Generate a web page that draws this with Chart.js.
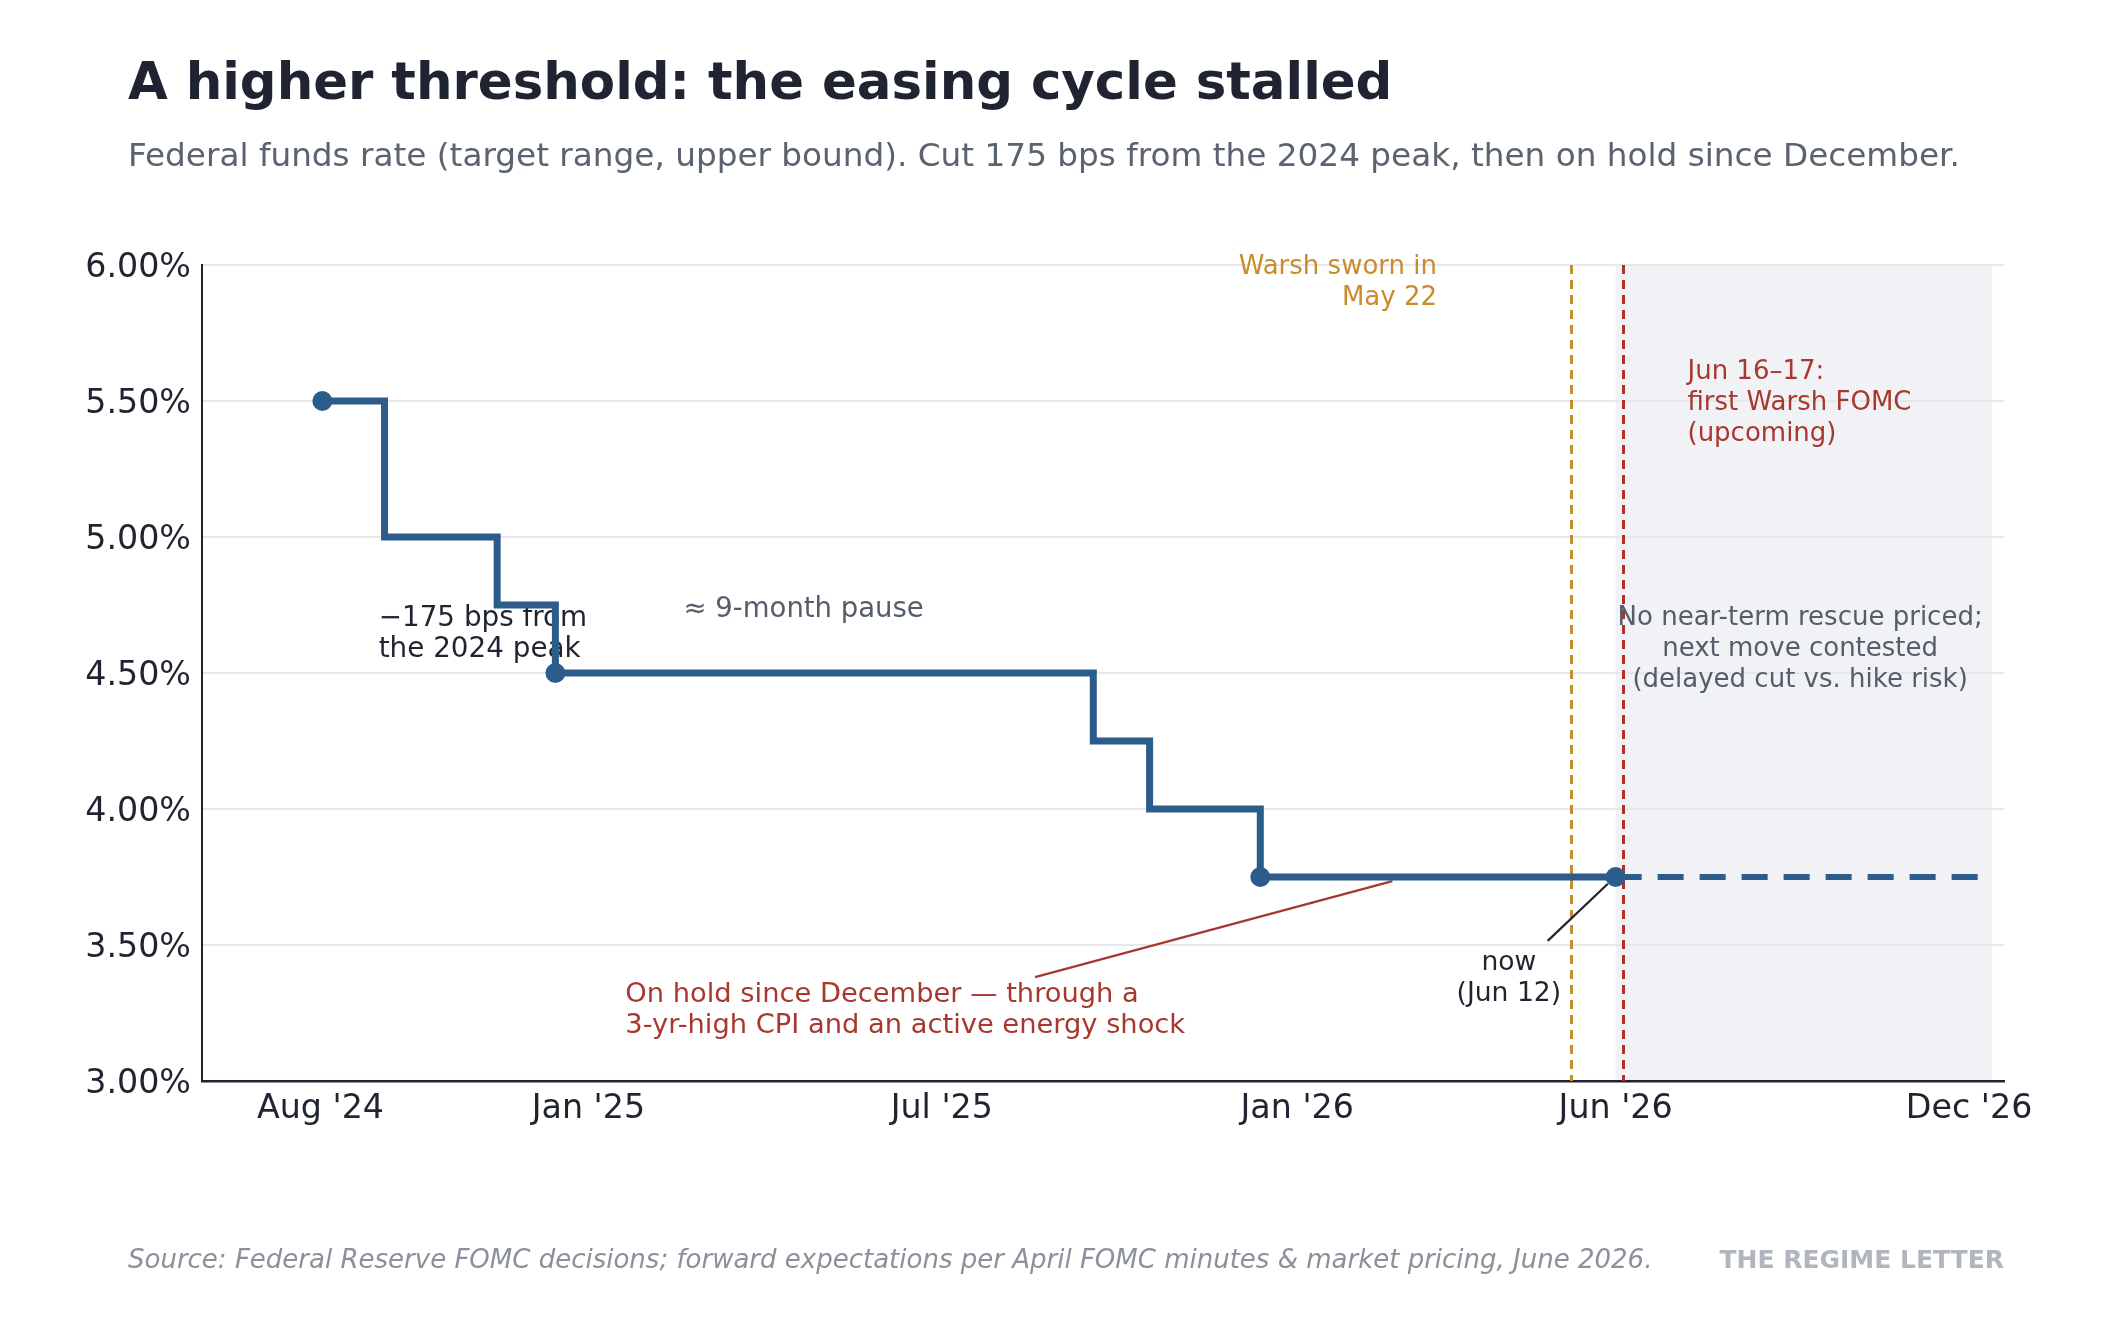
<!DOCTYPE html>
<html>
<head>
<meta charset="utf-8">
<script src="https://cdn.jsdelivr.net/npm/chart.js@4/dist/chart.umd.min.js"></script>
<style>
html,body{margin:0;padding:0;background:#ffffff;}
#wrap{width:2120px;height:1320px;}
canvas{display:block;}
</style>
</head>
<body>
<div id="wrap"><canvas id="c" width="2120" height="1320"></canvas></div>
<script>
// ---------- data ----------
const rateDates   = ['2024-08-15','2024-09-16','2024-11-13','2024-12-13','2025-09-16','2025-10-15','2025-12-11','2026-06-12'];
const rateValues  = [5.50, 5.00, 4.75, 4.50, 4.25, 4.00, 3.75, 3.75];
const markerFlags = [1, 0, 0, 1, 0, 0, 1, 1];
const projectionDates  = ['2026-06-12','2026-12-23'];
const projectionValues = [3.75, 3.75];
const tickDates  = ['2024-08-14','2024-12-30','2025-06-30','2025-12-30','2026-06-12','2026-12-11'];
const tickLabels = ["Aug '24","Jan '25","Jul '25","Jan '26","Jun '26","Dec '26"];
const axisRange  = ['2024-06-14','2026-12-29'];
const rateRange  = [3.0, 6.0];
const rateStep   = 0.5;
const swornDate  = '2026-05-20';
const fomcDate   = '2026-06-16';
const outlookRange = ['2026-06-12','2026-12-23'];

const titleText    = 'A higher threshold: the easing cycle stalled';
const subtitleText = 'Federal funds rate (target range, upper bound). Cut 175 bps from the 2024 peak, then on hold since December.';
const sourceText   = 'Source: Federal Reserve FOMC decisions; forward expectations per April FOMC minutes & market pricing, June 2026.';
const brandText    = 'THE REGIME LETTER';

// annotations: text lines anchored at (date, rate)
const notes = [
  {lines:['\u2212175 bps from','the 2024 peak'], at:['2024-09-13',4.70], align:'left',  color:'#1f2430', size:27.8},
  {lines:['\u2248 9-month pause'],              at:['2025-02-17',4.732], align:'left', color:'#555d69', size:27.5},
  {lines:['Warsh sworn in','May 22'],          at:['2026-03-12',5.99], align:'right', color:'#c98b2c', size:26},
  {lines:['Jun 16\u201317:','first Warsh FOMC','(upcoming)'], at:['2026-07-19',5.607], align:'left', color:'#a8382f', size:26},
  {lines:['No near-term rescue priced;','next move contested','(delayed cut vs. hike risk)'], at:['2026-09-15',4.702], align:'center', color:'#555d69', size:26},
  {lines:['now','(Jun 12)'],                   at:['2026-04-18',3.434], align:'center', color:'#1f2430', size:26.6},
  {lines:['On hold since December \u2014 through a','3-yr-high CPI and an active energy shock'], at:['2025-01-18',3.316], align:'left', color:'#a8382f', size:27.3}
];
const connectors = [
  {from:['2025-08-17',3.382], to:['2026-02-17',3.735], color:'#a8382f'},
  {from:['2026-05-08',3.515], to:['2026-06-08',3.725], color:'#1f2430'}
];

// ---------- helpers ----------
const D = s => Date.UTC(+s.slice(0,4), +s.slice(5,7)-1, +s.slice(8,10));
const FONT = '"DejaVu Sans", "Liberation Sans", sans-serif';
const BLUE = '#2b5c8a';

const overlay = {
  id: 'overlay',
  beforeDraw(chart) {
    const {ctx, scales:{x, y}} = chart;
    ctx.save();
    ctx.fillStyle = '#ffffff';
    ctx.fillRect(0, 0, chart.width, chart.height);
    const x0 = x.getPixelForValue(D(outlookRange[0]));
    const x1 = x.getPixelForValue(D(outlookRange[1]));
    const yt = y.getPixelForValue(rateRange[1]);
    const yb = y.getPixelForValue(rateRange[0]);
    ctx.fillStyle = '#f1f2f5';
    ctx.fillRect(x0, yt, x1 - x0, yb - yt);
    ctx.restore();
  },
  beforeDatasetsDraw(chart) {
    const {ctx, chartArea:a, scales:{x, y}} = chart;
    ctx.save();
    const vline = (d, color) => {
      const px = Math.round(x.getPixelForValue(D(d))) + 0.5;
      ctx.beginPath();
      ctx.setLineDash([9, 6]);
      ctx.strokeStyle = color;
      ctx.lineWidth = 3;
      ctx.moveTo(px, a.top);
      ctx.lineTo(px, a.bottom);
      ctx.stroke();
    };
    vline(swornDate, '#c98b2c');
    vline(fomcDate, '#b0302a');
    ctx.setLineDash([]);
    connectors.forEach(c => {
      ctx.beginPath();
      ctx.strokeStyle = c.color;
      ctx.lineWidth = 2.2;
      ctx.moveTo(x.getPixelForValue(D(c.from[0])), y.getPixelForValue(c.from[1]));
      ctx.lineTo(x.getPixelForValue(D(c.to[0])), y.getPixelForValue(c.to[1]));
      ctx.stroke();
    });
    ctx.textBaseline = 'middle';
    notes.forEach(n => {
      ctx.font = n.size + 'px ' + FONT;
      ctx.fillStyle = n.color;
      ctx.textAlign = n.align;
      const px = x.getPixelForValue(D(n.at[0]));
      const py = y.getPixelForValue(n.at[1]);
      n.lines.forEach((l, i) => ctx.fillText(l, px, py + i * 31));
    });
    ctx.restore();
  },
  afterDraw(chart) {
    const {ctx} = chart;
    ctx.save();
    ctx.textAlign = 'left';
    ctx.textBaseline = 'alphabetic';
    ctx.fillStyle = '#1f2332';
    ctx.font = 'bold 51.4px ' + FONT;
    ctx.fillText(titleText, 128, 99);
    ctx.fillStyle = '#5b6270';
    ctx.font = '32.7px ' + FONT;
    ctx.fillText(subtitleText, 128, 166);
    ctx.fillStyle = '#8b909a';
    ctx.font = 'italic 26px ' + FONT;
    ctx.fillText(sourceText, 128, 1268);
    ctx.fillStyle = '#b1b5bd';
    ctx.font = 'bold 25px ' + FONT;
    ctx.textAlign = 'right';
    ctx.fillText(brandText, 2004, 1268);
    ctx.restore();
  }
};

new Chart(document.getElementById('c'), {
  type: 'line',
  data: {
    datasets: [
      {
        data: rateDates.map((d, i) => ({x: D(d), y: rateValues[i]})),
        borderColor: BLUE,
        borderWidth: 7,
        stepped: true,
        borderJoinStyle: 'miter',
        borderCapStyle: 'butt',
        pointRadius: markerFlags.map(f => f ? 10 : 0),
        pointHoverRadius: markerFlags.map(f => f ? 10 : 0),
        pointBackgroundColor: BLUE,
        pointBorderWidth: 0,
        fill: false
      },
      {
        data: projectionDates.map((d, i) => ({x: D(d), y: projectionValues[i]})),
        borderColor: BLUE,
        borderWidth: 6,
        borderDash: [26, 16],
        borderCapStyle: 'butt',
        pointRadius: 0,
        fill: false
      }
    ]
  },
  options: {
    responsive: false,
    devicePixelRatio: 1,
    animation: false,
    events: [],
    layout: {padding: {top: 265, right: 116, bottom: 0, left: 0}},
    plugins: {legend: {display: false}, tooltip: {enabled: false}, title: {display: false}},
    scales: {
      x: {
        type: 'linear',
        min: D(axisRange[0]),
        max: D(axisRange[1]),
        afterBuildTicks: s => { s.ticks = tickDates.map(d => ({value: D(d)})); },
        afterFit: s => { s.height = 1320 - 1081; },
        grid: {display: false, drawTicks: false},
        border: {display: true, color: '#1f2430', width: 2.5},
        ticks: {
          autoSkip: false, maxRotation: 0, padding: 8,
          color: '#1f2430',
          font: {family: FONT, size: 33.3},
          callback: (v, i) => tickLabels[i]
        }
      },
      y: {
        min: rateRange[0],
        max: rateRange[1],
        afterFit: s => { s.width = 202; },
        grid: {color: '#e7e8ec', lineWidth: 2, drawTicks: false},
        border: {display: true, color: '#1f2430', width: 2},
        ticks: {
          stepSize: rateStep, padding: 11, labelOffset: 3,
          color: '#1f2430',
          font: {family: FONT, size: 33.3},
          callback: v => v.toFixed(2) + '%'
        }
      }
    }
  },
  plugins: [overlay]
});
</script>
</body>
</html>
